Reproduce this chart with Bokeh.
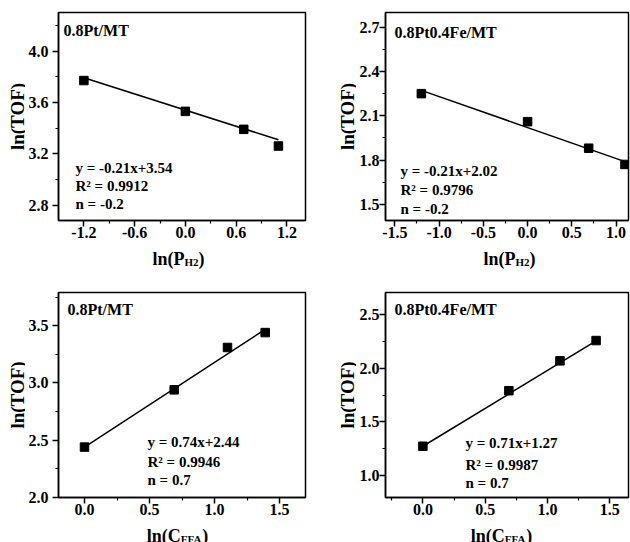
import math
from bokeh.plotting import figure
from bokeh.models import FixedTicker, Label, Range1d
from bokeh.layouts import column, row
from bokeh.embed import file_html
from bokeh.resources import INLINE

# ---------------- data ----------------
ph2_x = [-1.2, 0.0, 0.69, 1.10]
tof_pt_h2 = [3.77, 3.53, 3.39, 3.26]
tof_ptfe_h2 = [2.25, 2.06, 1.88, 1.77]

cffa_x = [0.0, 0.69, 1.10, 1.39]
tof_pt_ffa = [2.44, 2.94, 3.31, 3.44]
tof_ptfe_ffa = [1.27, 1.79, 2.07, 2.26]

fit_slopes = [-0.21, -0.21, 0.74, 0.71]
fit_intercepts = [3.54, 2.02, 2.44, 1.27]

titles = ["0.8Pt/MT", "0.8Pt0.4Fe/MT", "0.8Pt/MT", "0.8Pt0.4Fe/MT"]
eq_texts = ["y = -0.21x+3.54", "y = -0.21x+2.02", "y = 0.74x+2.44", "y = 0.71x+1.27"]
r2_texts = ["R² = 0.9912", "R² = 0.9796", "R² = 0.9946", "R² = 0.9987"]
n_texts = ["n = -0.2", "n = -0.2", "n = 0.7", "n = 0.7"]

x_ticks = [
    [-1.2, -0.6, 0.0, 0.6, 1.2],
    [-1.5, -1.0, -0.5, 0.0, 0.5, 1.0],
    [0.0, 0.5, 1.0, 1.5],
    [0.0, 0.5, 1.0, 1.5],
]
x_tick_labels = [
    ["-1.2", "-0.6", "0.0", "0.6", "1.2"],
    ["-1.5", "-1.0", "-0.5", "0.0", "0.5", "1.0"],
    ["0.0", "0.5", "1.0", "1.5"],
    ["0.0", "0.5", "1.0", "1.5"],
]
x_minor = [
    [-0.9, -0.3, 0.3, 0.9],
    [-1.25, -0.75, -0.25, 0.25, 0.75],
    [0.25, 0.75, 1.25],
    [-0.25, 0.25, 0.75, 1.25],
]
y_ticks = [
    [2.8, 3.2, 3.6, 4.0],
    [1.5, 1.8, 2.1, 2.4, 2.7],
    [2.0, 2.5, 3.0, 3.5],
    [1.0, 1.5, 2.0, 2.5],
]
y_tick_labels = [
    ["2.8", "3.2", "3.6", "4.0"],
    ["1.5", "1.8", "2.1", "2.4", "2.7"],
    ["2.0", "2.5", "3.0", "3.5"],
    ["1.0", "1.5", "2.0", "2.5"],
]
y_minor = [
    [3.0, 3.4, 3.8, 4.2],
    [1.65, 1.95, 2.25, 2.55],
    [2.25, 2.75, 3.25, 3.75],
    [1.25, 1.75, 2.25],
]
x_ranges = [(-1.5, 1.42), (-1.605, 1.14), (-0.2, 1.7), (-0.3, 1.65)]
y_ranges = [(2.68, 4.30), (1.39, 2.80), (2.0, 3.79), (0.79, 2.71)]

x_main = ["ln(P", "ln(P", "ln(C", "ln(C"]
x_sub = ["H2", "H2", "FFA", "FFA"]
y_label_text = "ln(TOF)"

panel_x = [ph2_x, ph2_x, cffa_x, cffa_x]
panel_y = [tof_pt_h2, tof_ptfe_h2, tof_pt_ffa, tof_ptfe_ffa]

# ---------------- layout / style ----------------
FONT = "Liberation Serif"
# panel geometry: (width, height, left, right, top, bottom, y-label standoff)
geoms = [
    (293, 246, 33, 13, 12, 26, 4),
    (274, 246, 28, 2, 12, 26, 0),
    (293, 253, 33, 13, 22, 26, 4),
    (274, 253, 28, 2, 22, 26, 0),
]
title_pos = [(5, 190), (9, 188), (9, 188), (9, 188)]
ann_pos = [(17, [53, 35, 17]), (15, [50, 31, 12]), (89, [56, 36, 18]), (80, [55, 33, 15])]
ylab_size, main_size, sub_size = 19, 18, 11
main_w = {"ln(P": 1.778, "ln(C": 1.889}
sub_w = {"H2": 1.278, "FFA": 1.944}
paren_w = 0.333


def lbl(x, y, text, size, units="screen", align="left", baseline="alphabetic", angle=0.0):
    return Label(x=x, y=y, x_units=units, y_units=units, text=text,
                 text_font=FONT, text_font_style="bold",
                 text_font_size=f"{size}px", text_color="black",
                 text_align=align, text_baseline=baseline, angle=angle)


def strip(w, h, top=0, bottom=0):
    fh = h - top - bottom
    s = figure(width=w, height=h, output_backend="svg", toolbar_location=None,
               x_range=Range1d(0, w), y_range=Range1d(0, fh),
               x_axis_location=None, y_axis_location=None, title=None,
               min_border=0, min_border_left=0, min_border_right=0,
               min_border_top=top, min_border_bottom=bottom)
    s.outline_line_color = None
    s.grid.visible = False
    s.background_fill_color = "white"
    s.border_fill_color = "white"
    return s


figs = []
for i in range(4):
    w, h, bl, br, bt, bb, ystand = geoms[i]
    p = figure(width=w, height=h, output_backend="svg", toolbar_location=None,
               x_range=Range1d(*x_ranges[i]), y_range=Range1d(*y_ranges[i]),
               min_border_left=bl, min_border_right=br,
               min_border_top=bt, min_border_bottom=bb)
    p.grid.visible = False
    p.outline_line_color = "black"
    p.outline_line_width = 1.5
    p.background_fill_color = "white"
    p.border_fill_color = "white"

    for ax, ticks, minor, labels in ((p.xaxis[0], x_ticks[i], x_minor[i], x_tick_labels[i]),
                                     (p.yaxis[0], y_ticks[i], y_minor[i], y_tick_labels[i])):
        ax.ticker = FixedTicker(ticks=ticks, minor_ticks=minor)
        ax.major_label_overrides = {t: s for t, s in zip(ticks, labels)}
        ax.axis_line_color = "black"
        ax.axis_line_width = 1.5
        ax.major_tick_line_width = 1.5
        ax.minor_tick_line_width = 1.2
        ax.major_tick_in = 0
        ax.major_tick_out = 6
        ax.minor_tick_in = 0
        ax.minor_tick_out = 3
        ax.major_label_text_font = FONT
        ax.major_label_text_font_style = "bold"
        ax.major_label_text_font_size = "16px"
        ax.major_label_text_color = "black"
    p.xaxis.major_label_standoff = 0
    p.yaxis.major_label_standoff = ystand

    xs = panel_x[i]
    ys = panel_y[i]
    lx = [min(xs), max(xs)]
    ly = [fit_slopes[i] * v + fit_intercepts[i] for v in lx]
    p.line(lx, ly, line_color="black", line_width=1.5)
    p.scatter(xs, ys, marker="square", size=8.5, fill_color="black", line_color="black")

    tx, ty = title_pos[i]
    p.add_layout(lbl(tx, ty, titles[i], 16))
    ax_, ays = ann_pos[i]
    for t, yy in zip((eq_texts[i], r2_texts[i], n_texts[i]), ays):
        p.add_layout(lbl(ax_, yy, t, 15))
    figs.append(p)


def ylabel_strip(w, h, cx, top, bottom):
    s = strip(w, h, top, bottom)
    s.add_layout(lbl(cx, (h - top - bottom) / 2, y_label_text, ylab_size, units="data",
                     align="center", baseline="middle", angle=math.pi / 2))
    return s


def xlabel_strip(w, h, centers, baseline, idxs):
    s = strip(w, h)
    for cx, i in zip(centers, idxs):
        wm = main_w[x_main[i]] * main_size
        ws = sub_w[x_sub[i]] * sub_size
        wp = paren_w * main_size
        left = cx - (wm + ws + wp) / 2
        s.add_layout(lbl(left, baseline, x_main[i], main_size, units="data"))
        s.add_layout(lbl(left + wm, baseline - 3, x_sub[i], sub_size, units="data"))
        s.add_layout(lbl(left + wm + ws, baseline, ")", main_size, units="data"))
    return s


row_a = row(ylabel_strip(25, 246, 17, 12, 26), figs[0],
            ylabel_strip(38, 246, 29, 12, 26), figs[1])
row_b = xlabel_strip(630, 24, [178, 509], 12, [0, 1])
row_c = row(ylabel_strip(25, 253, 17, 22, 26), figs[2],
            ylabel_strip(38, 253, 29, 22, 26), figs[3])
row_d = xlabel_strip(630, 19, [177, 501], 7, [2, 3])

layout = column(row_a, row_b, row_c, row_d)
open("out.html", "w").write(file_html(layout, INLINE))
